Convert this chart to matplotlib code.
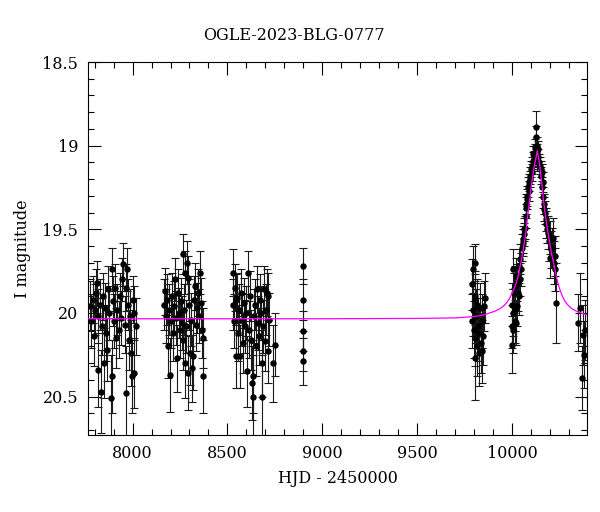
#! /usr/bin/env python3

import numpy as np
import matplotlib
matplotlib.use('Agg')
import matplotlib.pyplot as plt
from matplotlib.ticker import MultipleLocator

# season 1
t1 = [7777, 7783, 7790, 7794, 7800, 7805, 7810, 7815, 7820, 7826, 7831, 7838, 7845, 7847, 7852,
      7858, 7863, 7870, 7876, 7884, 7889, 7889, 7895, 7902, 7908, 7915, 7920, 7926, 7932, 7940,
      7946, 7952, 7958, 7963, 7963, 7968, 7975, 7979, 7985, 7989, 7995, 8000, 8005, 8010, 8016]
m1 = [19.96, 20.05, 19.92, 20.14, 19.98, 19.88, 19.82, 20.34, 20.02, 19.95, 20.47, 20.08, 19.90, 20.30, 19.97,
      20.12, 20.22, 19.86, 20.00, 20.51, 19.74, 20.38, 19.93, 20.05, 19.85, 20.15, 19.98, 20.10, 19.90, 20.03,
      19.80, 19.71, 20.07, 19.85, 20.48, 19.74, 19.95, 20.16, 20.02, 20.24, 20.38, 19.92, 20.00, 20.36, 20.08]
e1 = [0.15, 0.16, 0.14, 0.18, 0.15, 0.14, 0.13, 0.22, 0.16, 0.15, 0.25, 0.17, 0.14, 0.21, 0.15,
      0.17, 0.19, 0.14, 0.16, 0.26, 0.13, 0.22, 0.15, 0.16, 0.14, 0.18, 0.15, 0.17, 0.14, 0.16,
      0.13, 0.13, 0.17, 0.14, 0.28, 0.13, 0.15, 0.18, 0.16, 0.20, 0.22, 0.14, 0.16, 0.21, 0.17]

# season 2
t2 = [8165, 8169, 8174, 8180, 8185, 8190, 8195, 8200, 8206, 8212, 8217, 8222, 8228, 8232, 8238,
      8243, 8248, 8254, 8259, 8264, 8264, 8269, 8274, 8274, 8280, 8285, 8290, 8290, 8296, 8301,
      8306, 8311, 8317, 8322, 8327, 8333, 8338, 8344, 8349, 8354, 8360, 8365, 8369, 8369]
m2 = [19.95, 19.87, 20.02, 19.92, 20.20, 19.98, 20.37, 20.05, 19.90, 20.12, 19.96, 19.80, 20.03, 20.27, 19.88,
      20.00, 20.10, 19.93, 20.06, 19.65, 20.16, 19.98, 19.76, 20.30, 20.08, 19.70, 19.79, 20.36, 19.95, 20.24,
      20.04, 20.33, 20.26, 19.92, 19.84, 20.07, 19.97, 19.88, 20.02, 19.76, 19.94, 20.10, 20.15, 20.38]
e2 = [0.15, 0.14, 0.16, 0.15, 0.19, 0.15, 0.22, 0.16, 0.14, 0.17, 0.15, 0.13, 0.16, 0.20, 0.14,
      0.15, 0.17, 0.14, 0.16, 0.12, 0.18, 0.15, 0.13, 0.21, 0.16, 0.13, 0.13, 0.22, 0.15, 0.19,
      0.16, 0.20, 0.20, 0.14, 0.14, 0.16, 0.15, 0.14, 0.16, 0.13, 0.15, 0.17, 0.18, 0.22]

# season 3
t3 = [8528, 8528, 8533, 8538, 8544, 8544, 8549, 8554, 8560, 8565, 8570, 8575, 8580, 8586, 8591,
      8596, 8602, 8607, 8612, 8617, 8622, 8628, 8633, 8633, 8638, 8644, 8649, 8654, 8660, 8665,
      8670, 8675, 8681, 8681, 8686, 8691, 8696, 8702, 8707, 8712, 8712, 8720, 8739, 8749]
m3 = [19.76, 19.95, 20.05, 19.85, 20.26, 19.92, 19.91, 20.12, 19.98, 20.26, 19.88, 20.04, 20.18, 19.94, 20.08,
      20.00, 20.35, 19.76, 20.10, 19.90, 20.16, 20.42, 20.50, 20.38, 20.02, 19.95, 20.20, 19.86, 20.06, 20.14,
      19.92, 20.00, 20.50, 20.30, 20.08, 19.86, 20.17, 19.98, 19.88, 19.90, 20.23, 20.04, 20.30, 20.19]
e3 = [0.14, 0.15, 0.16, 0.14, 0.19, 0.15, 0.15, 0.17, 0.15, 0.19, 0.14, 0.16, 0.18, 0.15, 0.16,
      0.16, 0.21, 0.13, 0.17, 0.15, 0.18, 0.22, 0.25, 0.22, 0.16, 0.15, 0.18, 0.14, 0.16, 0.17,
      0.15, 0.16, 0.25, 0.20, 0.16, 0.14, 0.18, 0.15, 0.14, 0.14, 0.19, 0.16, 0.23, 0.19]

# lone night
t4 = [8897, 8897, 8898, 8899, 8899]
m4 = [19.72, 19.92, 20.11, 20.23, 20.29]
e4 = [0.11, 0.12, 0.12, 0.12, 0.14]

# season 5
t5 = [9789, 9792, 9797, 9797, 9800, 9803, 9805, 9805, 9805, 9808, 9812, 9815, 9818, 9821, 9824,
      9828, 9831, 9835, 9840, 9844, 9848, 9852, 9858]
m5 = [19.83, 20.05, 19.74, 19.98, 20.10, 19.92, 19.70, 19.90, 20.27, 20.15, 20.02, 20.20, 19.95, 20.08, 20.24,
      20.12, 19.97, 20.18, 20.23, 20.05, 20.14, 19.96, 19.91]
e5 = [0.15, 0.16, 0.14, 0.16, 0.17, 0.15, 0.11, 0.15, 0.25, 0.17, 0.16, 0.18, 0.15, 0.17, 0.20,
      0.17, 0.15, 0.18, 0.19, 0.16, 0.17, 0.15, 0.15]

# season 6 (event)
t6 = [9998, 10000, 10003, 10005, 10005, 10008, 10011, 10014, 10016, 10019,
      10021, 10024, 10026, 10029, 10032, 10035, 10038, 10042, 10045, 10048,
      10053, 10056, 10058, 10062, 10066, 10069, 10072, 10074, 10077, 10079,
      10082, 10085, 10088, 10091, 10095, 10098, 10101, 10105, 10108, 10111,
      10114, 10118, 10121, 10124, 10127, 10127, 10130, 10132, 10135, 10137,
      10140, 10144, 10148, 10151, 10155, 10158, 10161, 10164, 10164, 10168,
      10171, 10174, 10178, 10182, 10185, 10190, 10195, 10200, 10200, 10205,
      10211, 10216, 10221, 10227, 10227, 10235]
m6 = [20.08, 20.19, 19.95, 19.74, 20.00, 20.10, 19.88, 20.05, 19.84, 19.98,
      19.78, 20.06, 19.96, 19.82, 19.88, 19.72, 19.90, 19.80, 19.68, 19.74,
      19.61, 19.58, 19.56, 19.53, 19.50, 19.49, 19.42, 19.37, 19.35, 19.32,
      19.30, 19.25, 19.27, 19.22, 19.20, 19.18, 19.14, 19.16, 19.12, 19.09,
      19.05, 19.08, 19.01, 19.04, 18.95, 18.89, 19.00, 19.04, 19.10, 19.07,
      19.02, 19.10, 19.12, 19.14, 19.18, 19.16, 19.25, 19.22, 19.31, 19.35,
      19.38, 19.40, 19.44, 19.47, 19.50, 19.52, 19.57, 19.55, 19.67, 19.62,
      19.61, 19.55, 19.70, 19.74, 19.66, 19.94]
e6 = [0.13, 0.17, 0.13, 0.12, 0.14, 0.14, 0.12, 0.13, 0.12, 0.13,
      0.11, 0.13, 0.12, 0.11, 0.11, 0.10, 0.11, 0.10, 0.09, 0.10,
      0.08, 0.08, 0.08, 0.07, 0.07, 0.07, 0.07, 0.06, 0.06, 0.06,
      0.06, 0.06, 0.06, 0.05, 0.05, 0.05, 0.05, 0.05, 0.05, 0.05,
      0.05, 0.05, 0.05, 0.05, 0.07, 0.10, 0.05, 0.05, 0.05, 0.05,
      0.05, 0.05, 0.05, 0.05, 0.05, 0.05, 0.06, 0.06, 0.06, 0.06,
      0.07, 0.07, 0.07, 0.08, 0.08, 0.10, 0.12, 0.10, 0.12, 0.11,
      0.12, 0.12, 0.13, 0.13, 0.12, 0.24]

# season 7
t7 = [10349, 10359, 10369, 10375, 10380, 10388]
m7 = [20.06, 19.97, 20.39, 20.13, 20.25, 20.10]
e7 = [0.17, 0.21, 0.19, 0.18, 0.20, 0.18]

# model curve
model_t = [7765, 9000, 9500, 9700, 9800, 9850, 9884, 9910, 9937, 9960, 9975, 9989, 10000, 10010,
           10020, 10031, 10042, 10051, 10060, 10070, 10079, 10092, 10105, 10118, 10126, 10134,
           10142, 10150, 10158, 10166, 10177, 10190, 10208, 10227, 10240, 10253, 10266, 10280,
           10293, 10306, 10320, 10350, 10396]
model_m = [20.035, 20.035, 20.033, 20.03, 20.022, 20.012, 20.00, 19.99, 19.975, 19.955, 19.935, 19.91,
           19.885, 19.86, 19.83, 19.79, 19.73, 19.68, 19.62, 19.55, 19.46, 19.34, 19.22, 19.12,
           19.08, 19.03, 19.08, 19.15, 19.23, 19.32, 19.42, 19.52, 19.64, 19.74, 19.81, 19.86,
           19.90, 19.93, 19.95, 19.965, 19.978, 19.995, 20.012]

plt.rcParams['font.family'] = ['DejaVu Serif']
plt.rcParams['font.size'] = 11.5

hjd = np.concatenate([t1, t2, t3, t4, t5, t6, t7])
mag = np.concatenate([m1, m2, m3, m4, m5, m6, m7])
err = np.concatenate([e1, e2, e3, e4, e5, e6, e7])

fig = plt.figure(figsize=(6, 5.12), dpi=100)
ax = fig.add_axes([0.1467, 0.1504, 0.8316, 0.7285])

ax.errorbar(hjd, mag, yerr=err, fmt='o', color='black', ms=3.6, ecolor='#1a1a1a',
            elinewidth=0.8, capsize=3, capthick=0.8, zorder=2)
# model goes on top of the points
ax.plot(model_t, model_m, color='#ff00ff', lw=0.9, zorder=3)

ax.set_xlim(7765, 10396)
ax.set_ylim(20.73, 18.5)
ax.xaxis.set_major_locator(MultipleLocator(500))
ax.xaxis.set_minor_locator(MultipleLocator(100))
ax.yaxis.set_major_locator(MultipleLocator(0.5))
ax.yaxis.set_minor_locator(MultipleLocator(0.1))
ax.yaxis.set_major_formatter(plt.FuncFormatter(lambda v, p: '%g' % v))
ax.tick_params(which='both', direction='in', top=True, right=True, width=0.8)
ax.tick_params(which='major', length=9, pad=7)
ax.tick_params(which='minor', length=4.5)
for s in ax.spines.values():
	s.set_linewidth(0.8)

ax.set_xlabel('HJD - 2450000', labelpad=6)
ax.set_ylabel('I magnitude', labelpad=8)
fig.text(0.49, 1 - 35 / 512, 'OGLE-2023-BLG-0777', ha='center', va='center')

plt.savefig('out.png', dpi=100)
plt.close()
